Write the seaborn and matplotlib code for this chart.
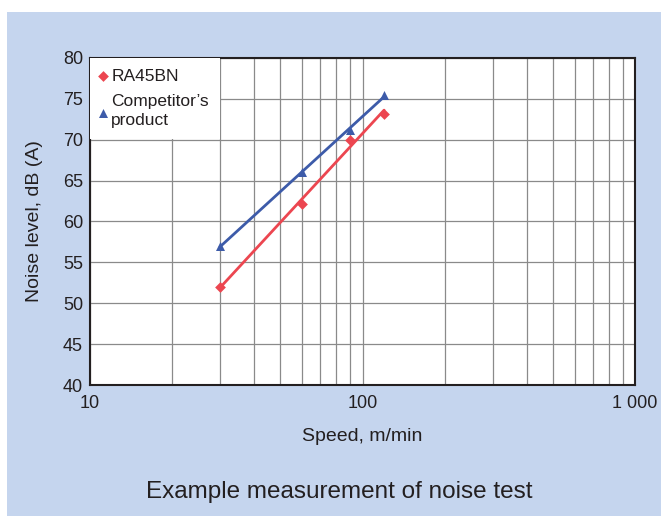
import numpy as np
import pandas as pd
import seaborn as sns
import matplotlib.pyplot as plt
from matplotlib.patches import Rectangle
from matplotlib.ticker import FixedLocator, FixedFormatter, LogLocator, NullFormatter

speed = [30, 60, 90, 120]
ra45bn = [52.0, 62.2, 70.0, 73.2]
competitor = [57.0, 66.0, 71.2, 75.5]
series_names = ["RA45BN", "Competitor\u2019s\nproduct"]
y_ticks = [40, 45, 50, 55, 60, 65, 70, 75, 80]
x_ticks = [10, 100, 1000]
x_tick_labels = ["10", "100", "1 000"]

sns.set_theme(style="white")
plt.rcParams['font.family'] = ['Liberation Sans', 'DejaVu Sans']

TXT = "#231f20"
RED = "#ec4650"
BLUE = "#3d5ba9"
BG = "#c5d5ee"

fig = plt.figure(figsize=(6.61, 5.18), dpi=100)
fig.patch.set_facecolor("white")
fig.patches.append(Rectangle((7 / 661, 2 / 518), 1 - 7 / 661, 1 - 14 / 518,
                             transform=fig.transFigure, facecolor=BG,
                             edgecolor="none", zorder=-10))

ax = fig.add_axes([90 / 661, 1 - 385 / 518, 545 / 661, 327 / 518])
ax.set_facecolor("white")

df = pd.DataFrame({"speed": speed * 2,
                   "noise": ra45bn + competitor,
                   "series": [series_names[0]] * 4 + [series_names[1]] * 4})

colors = [RED, BLUE]
markers = ["D", "^"]
sizes = [30, 42]
for name, c, m, s in zip(series_names, colors, markers, sizes):
    sub = df[df["series"] == name]
    sns.regplot(data=sub, x="speed", y="noise", logx=True, ci=None, ax=ax,
                color=c, marker=m, label=name,
                scatter_kws={"s": s, "zorder": 4, "linewidths": 0, "alpha": 1},
                line_kws={"lw": 2, "zorder": 3})

ax.set_xscale("log")
ax.set_xlim(10, 1000)
ax.set_ylim(40, 80)
ax.xaxis.set_major_locator(FixedLocator(x_ticks))
ax.xaxis.set_major_formatter(FixedFormatter(x_tick_labels))
ax.xaxis.set_minor_locator(LogLocator(base=10, subs=np.arange(2, 10)))
ax.xaxis.set_minor_formatter(NullFormatter())
ax.set_yticks(y_ticks)
ax.grid(True, which="both", axis="x", color="#8a8a8a", lw=0.9, zorder=0)
ax.grid(True, which="major", axis="y", color="#8a8a8a", lw=0.9, zorder=0)
ax.set_axisbelow(True)

for sp in ax.spines.values():
    sp.set_color(TXT)
    sp.set_linewidth(1.5)

ax.tick_params(axis="both", which="both", length=0, labelsize=13, colors=TXT)
ax.tick_params(axis="x", pad=7)
ax.tick_params(axis="y", pad=5)
ax.set_xlabel("Speed, m/min", fontsize=14, color=TXT, labelpad=12)
ax.set_ylabel("Noise level, dB (A)", fontsize=14, color=TXT, labelpad=14)

handles, labels = ax.get_legend_handles_labels()
leg = ax.legend(handles[:2], labels[:2], loc="upper left", frameon=True,
                fontsize=12.5, handletextpad=0.3, handlelength=0.3,
                borderaxespad=0.0, borderpad=0.62, labelspacing=0.6,
                markerscale=1.0)
leg.get_frame().set_facecolor("white")
leg.get_frame().set_edgecolor("none")
leg.get_frame().set_alpha(1)
leg.get_frame().set_boxstyle("square", pad=0)
for t in leg.get_texts():
    t.set_color(TXT)
    t.set_linespacing(1.3)

fig.text(339 / 661, 1 - 492 / 518, "Example measurement of noise test", ha="center",
         va="center", fontsize=17.5, color=TXT)

fig.savefig("out.png", dpi=100, facecolor=fig.get_facecolor())
